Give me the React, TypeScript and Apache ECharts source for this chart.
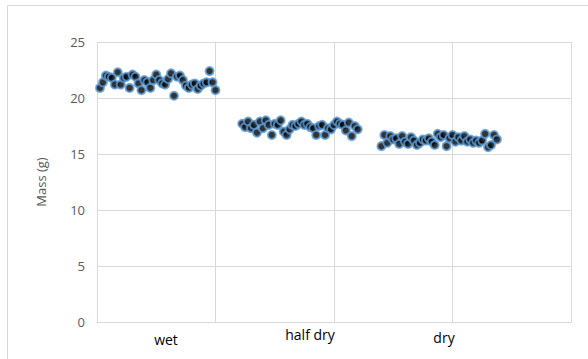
import React, { useEffect, useRef } from "react";
import * as echarts from "echarts";

const groupLabels = ["wet", "half dry", "dry"];
const wetX0 = 1;
const halfDryX0 = 49;
const dryX0 = 96;
const wetValues = [
  20.9, 21.4, 22.0, 21.9, 21.8, 21.2, 22.3, 21.2, 21.8, 21.9,
  20.9, 22.1, 21.9, 21.3, 20.7, 21.6, 21.4, 20.9, 21.6, 22.1,
  21.6, 21.3, 21.2, 21.7, 22.2, 20.2, 21.9, 22.0, 21.6, 21.1,
  20.9, 21.2, 21.3, 20.8, 21.1, 21.3, 21.4, 22.4, 21.4, 20.7,
];
const halfDryValues = [
  17.7, 17.4, 17.9, 17.3, 17.6, 16.9, 17.9, 17.3, 18.0, 17.6,
  16.7, 17.7, 17.6, 18.0, 17.0, 16.7, 17.2, 17.6, 17.5, 17.7,
  17.9, 17.6, 17.7, 17.4, 17.3, 16.7, 17.5, 17.6, 16.7, 17.3,
  17.2, 17.6, 17.9, 17.7, 17.6, 17.1, 17.8, 16.6, 17.5, 17.2,
];
const dryValues = [
  15.7, 16.7, 16.0, 16.6, 16.3, 16.4, 15.9, 16.6, 16.1, 15.9,
  16.5, 16.2, 15.8, 16.0, 16.3, 16.2, 16.4, 16.1, 15.8, 16.8,
  16.5, 16.7, 15.7, 16.4, 16.7, 16.1, 16.5, 16.2, 16.6, 16.1,
  16.3, 16.0, 16.2, 16.0, 16.2, 16.8, 15.6, 15.8, 16.7, 16.3,
];
const yTicks = [0, 5, 10, 15, 20, 25];
const xMax = 160;
const xInterval = 40;

function toPoints(x0: number, vals: number[]) {
  return vals.map((v, i) => [x0 + i, v]);
}

export default function App() {
  const ref = useRef<HTMLDivElement>(null);
  useEffect(() => {
    if (!ref.current) return;
    const chart = echarts.init(ref.current, undefined, { renderer: "svg" });
    const data = [
      ...toPoints(wetX0, wetValues),
      ...toPoints(halfDryX0, halfDryValues),
      ...toPoints(dryX0, dryValues),
    ];
    const labelStyle = { fill: "#000000", fontSize: 14, fontFamily: "Open Sans", align: "center", verticalAlign: "middle" };
    chart.setOption({
      animation: false,
      backgroundColor: "#ffffff",
      grid: { left: 97, right: 17, top: 42, bottom: 37, containLabel: false },
      xAxis: {
        type: "value",
        min: 0,
        max: xMax,
        interval: xInterval,
        axisLabel: { show: false },
        axisTick: { show: false },
        axisLine: { show: true, onZero: false, lineStyle: { color: "#d9d9d9", width: 1 } },
        splitLine: { show: true, lineStyle: { color: "#d9d9d9", width: 1 } },
      },
      yAxis: {
        type: "value",
        min: yTicks[0],
        max: yTicks[yTicks.length - 1],
        interval: 5,
        name: "Mass (g)",
        nameLocation: "middle",
        nameGap: 50,
        nameTextStyle: { color: "#595959", fontSize: 13, fontFamily: "Open Sans" },
        axisLabel: { color: "#595959", fontSize: 13, fontFamily: "Open Sans", margin: 12 },
        axisTick: { show: false },
        axisLine: { show: false },
        splitLine: { show: true, lineStyle: { color: "#d9d9d9", width: 1 } },
      },
      series: [
        {
          type: "scatter",
          data,
          symbol: "circle",
          symbolSize: 8,
          itemStyle: { color: "#000000", borderColor: "#5b9bd5", borderWidth: 2 },
        },
      ],
      graphic: [
        {
          type: "rect",
          shape: { x: 7.5, y: 5.5, width: 700, height: 500 },
          style: { fill: "none", stroke: "#d9d9d9", lineWidth: 1 },
          silent: true,
          z: -1,
        },
        { type: "text", x: 166, y: 339, style: { ...labelStyle, text: groupLabels[0] } },
        { type: "text", x: 310, y: 334, style: { ...labelStyle, text: groupLabels[1] } },
        { type: "text", x: 444, y: 337, style: { ...labelStyle, text: groupLabels[2] } },
      ],
    });
    return () => chart.dispose();
  }, []);
  return <div ref={ref} style={{ position: "fixed", left: 0, top: 0, width: 588, height: 359 }} />;
}
